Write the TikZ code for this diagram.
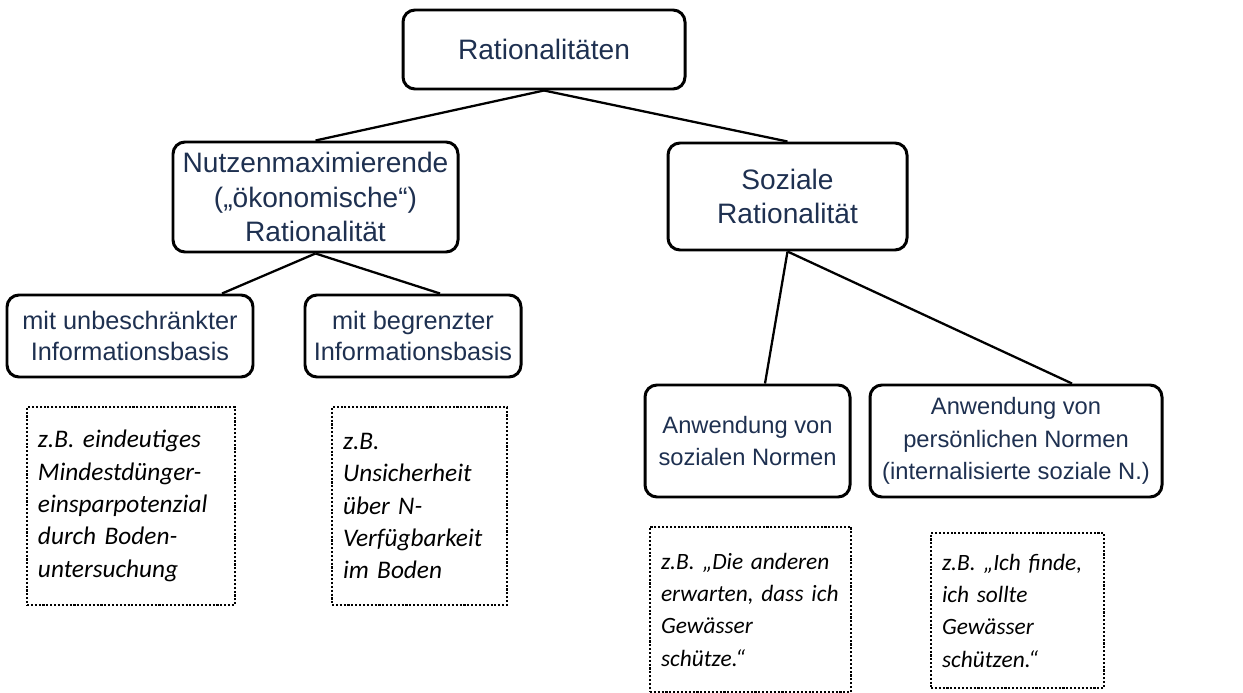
\documentclass[tikz,border=0pt]{standalone}
\usepackage{fontspec}
\setmainfont{Liberation Sans}
\newfontfamily\calfont{Carlito}
\usepackage{tikz}
\usetikzlibrary{calc}
\definecolor{textnavy}{RGB}{30,48,80}
\frenchspacing
\hyphenpenalty=10000

\begin{document}
\begin{tikzpicture}[
    box/.style={draw, line width=1.7pt, rounded corners=0.24cm, align=center,
      text=textnavy, inner sep=2pt, font=\fontsize{16}{19.4}\selectfont},
    midbox/.style={box, font=\fontsize{14.4}{17.6}\selectfont},
    lowbox/.style={box, font=\fontsize{13.5}{18.4}\selectfont},
    example/.style={draw, line width=1.3pt, dash pattern=on 1.2pt off 1pt,
      align=left, inner xsep=0.22cm, inner ysep=0pt,
      font=\calfont\itshape\fontsize{14.4}{18.4}\selectfont},
    smallexample/.style={example, font=\calfont\itshape\fontsize{13.3}{18.4}\selectfont},
    conn/.style={line width=1.3pt},
  ]
  \useasboundingbox (0,0) rectangle (24.86,-13.86);

  % top level
  \node[box, minimum width=5.64cm, minimum height=1.58cm] (root) at (10.88,-0.99) {Rationalitäten};

  % second level
  \node[box, minimum width=5.70cm, minimum height=2.20cm] (nutz) at (6.31,-3.94)
    {Nutzenmaximierende\\(„ökonomische“)\\Rationalität};
  \node[box, minimum width=4.78cm, minimum height=2.14cm] (soz) at (15.75,-3.93)
    {Soziale\\Rationalität};

  % third level
  \node[midbox, minimum width=4.92cm, minimum height=1.64cm] (unb) at (2.60,-6.72)
    {mit unbeschränkter\\Informationsbasis};
  \node[midbox, minimum width=4.32cm, minimum height=1.64cm] (beg) at (8.26,-6.72)
    {mit begrenzter\\Informationsbasis};
  \node[lowbox, minimum width=4.10cm, minimum height=2.24cm] (anws) at (14.95,-8.82)
    {Anwendung von\\sozialen Normen};
  \node[lowbox, minimum width=5.84cm, minimum height=2.24cm] (anwp) at (20.32,-8.82)
    {Anwendung von\\persönlichen Normen\\(internalisierte soziale N.)};

  % examples
  \node[example, text width=3.72cm, minimum height=3.96cm] (ex1) at (2.62,-10.12)
    {z.B.~eindeutiges\\Mindestdünger-\\einsparpotenzial\\durch~Boden-\\untersuchung};
  \node[example, text width=3.06cm, minimum height=3.96cm] (ex2) at (8.39,-10.12)
    {z.B.\\Unsicherheit\\über~N-\\Verfügbarkeit\\im~Boden};
  \node[smallexample, text width=3.58cm, minimum height=3.30cm] (ex3) at (15.01,-12.19)
    {z.B.~„Die~anderen\\erwarten,~dass~ich\\Gewässer\\schütze.“};
  \node[smallexample, text width=3.02cm, minimum height=3.10cm] (ex4) at (20.35,-12.21)
    {z.B.~„Ich~finde,\\ich~sollte\\Gewässer\\schützen.“};

  % connectors
  \draw[conn] (root.south) -- (nutz.north);
  \draw[conn] (root.south) -- (soz.north);
  \draw[conn] (nutz.south) -- ([xshift=1.84cm]unb.north);
  \draw[conn] (nutz.south) -- ([xshift=0.54cm]beg.north);
  \draw[conn] (soz.south) -- ([xshift=0.35cm]anws.north);
  \draw[conn] (soz.south) -- ([xshift=1.12cm]anwp.north);
\end{tikzpicture}
\end{document}
